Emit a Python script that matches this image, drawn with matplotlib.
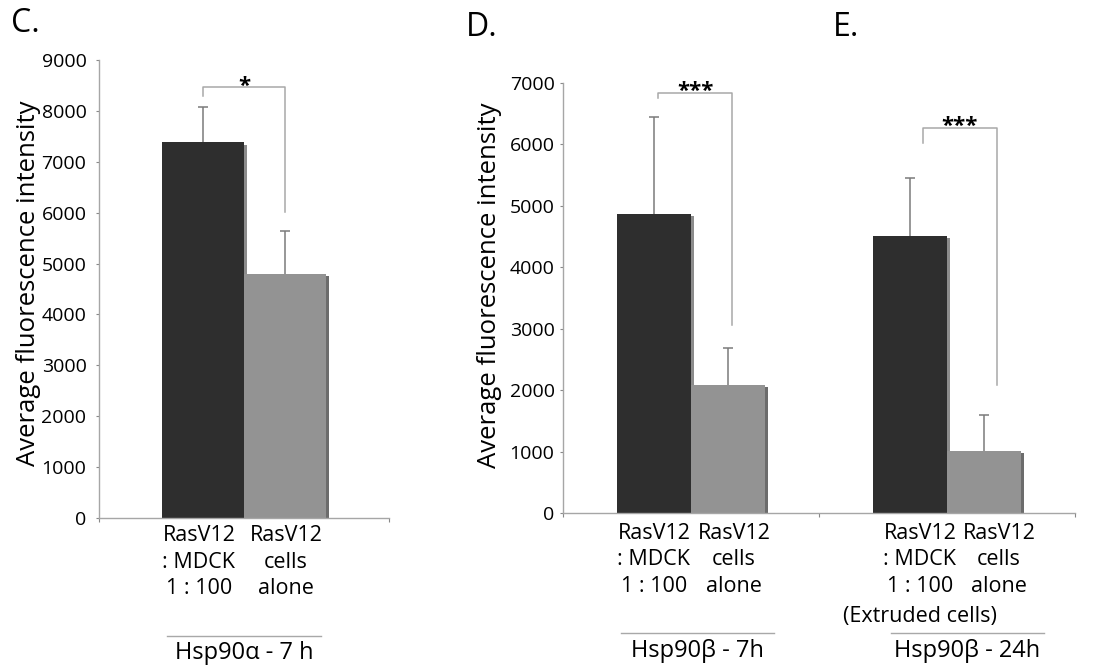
import numpy as np
import matplotlib.pyplot as plt
import matplotlib.patheffects as pe
from matplotlib.transforms import blended_transform_factory

plt.rcParams['font.family'] = ['Open Sans', 'DejaVu Sans']

# values
c_means = [7380, 4800]
c_err = [690, 840]
d_means = [4870, 2085]
d_err = [1580, 605]
e_means = [4510, 1010]
e_err = [945, 590]

# significance brackets: top, left end, right end
c_bracket = [8470, 8290, 6020]
d_bracket = [6840, 6760, 3060]
e_bracket = [6270, 6025, 2085]
stars = ["*", "***", "***"]

bar_labels = ["RasV12\n: MDCK\n1 : 100", "RasV12\ncells\nalone"]
group_labels = ["Hsp90α - 7 h", "Hsp90β - 7h", "Hsp90β - 24h"]
panel_letters = ["C.", "D.", "E."]
ylabel = "Average fluorescence intensity"

W, H = 1095, 668
dark, light = "#2e2e2e", "#939393"
shadow_cols = ["#8c8c8c", "#6c6c6c"]
line_col = "#a8a8a8"


def fx(x):
    return x / W


def fy(y):
    return 1 - y / H


def style_axis(ax, ymax, step, pad):
    ax.set_ylim(0, ymax)
    ax.set_yticks(range(0, ymax + 1, step))
    for s in ["top", "right"]:
        ax.spines[s].set_visible(False)
    for s in ["left", "bottom"]:
        ax.spines[s].set_color("#a6a6a6")
        ax.spines[s].set_linewidth(1.0)
    ax.tick_params(axis="y", length=2.5, width=0.8, color="#888888",
                   labelsize=14, pad=pad)
    ax.tick_params(axis="x", length=3, width=0.8, color="#888888",
                   labelbottom=False)


def draw_group(ax, center, means, errs, bracket, star, shift, bw,
               lab_off, lab_dx, group_label, under_half, under_off, text_off):
    xs = [center - bw / 2, center + bw / 2]
    bars = ax.bar(xs, means, width=bw, color=[dark, light],
                  edgecolor="none", zorder=2)
    for b, sc in zip(bars, shadow_cols):
        b.set_path_effects([pe.SimplePatchShadow(offset=(2.2, -1.5),
                                                 shadow_rgbFace=sc, alpha=1),
                            pe.Normal()])
    eb = ax.errorbar(xs, means, yerr=[[0, 0], errs], fmt="none",
                     ecolor="#7a7a7a", elinewidth=1.1, capsize=3.6,
                     capthick=1.1, zorder=3)
    # only the upper cap is drawn in the original
    for cl in eb[1]:
        if np.allclose(cl.get_ydata(), means):
            cl.set_visible(False)

    top, left_end, right_end = bracket
    xl, xr = xs[0] + shift, xs[1] + shift
    ax.plot([xl, xl, xr, xr], [left_end, top, top, right_end],
            color=line_col, lw=1.1, zorder=1, clip_on=False)
    ax.annotate(star, ((xl + xr) / 2, top), xytext=(0, -3.3),
                textcoords="offset points", ha="center", va="baseline",
                fontsize=16, fontweight="bold")

    tr = blended_transform_factory(ax.transData, ax.transAxes)
    for x, lab, dx in zip(xs, bar_labels, lab_dx):
        ax.annotate(lab, (x, 0), xycoords=tr, xytext=(dx * 0.72, lab_off),
                    textcoords="offset points", ha="center", va="top",
                    fontsize=15.5, linespacing=1.36)

    h = ax.bbox.height
    gx = center + shift * 1.6
    ax.plot([gx - under_half, gx + under_half], [-under_off / h] * 2,
            transform=tr, color=line_col, lw=1.0, clip_on=False)
    ax.text(gx, -text_off / h, group_label, transform=tr, ha="center",
            va="center", fontsize=17)
    return xs


fig = plt.figure(figsize=(W / 100, H / 100), dpi=100)

# panel C
axc = fig.add_axes([fx(99), fy(518), fx(389) - fx(99), fy(60) - fy(518)])
style_axis(axc, 9000, 1000, 6.5)
axc.set_xlim(0, 1)
axc.set_xticks([0, 1])
draw_group(axc, 0.5, c_means, c_err, c_bracket, stars[0], 0.0, 0.283,
           -5, (-4, 1), group_labels[0], 0.265, 118, 135)

# panels D and E share one axis
axd = fig.add_axes([fx(563), fy(513), fx(1075) - fx(563), fy(83) - fy(513)])
style_axis(axd, 7000, 1000, 3.6)
axd.set_xlim(0, 2)
axd.set_xticks([0, 1, 2])
draw_group(axd, 0.5, d_means, d_err, d_bracket, stars[1], 0.016, 0.29,
           -7, (0, 6), group_labels[1], 0.30, 120, 138)
xs_e = draw_group(axd, 1.5, e_means, e_err, e_bracket, stars[2], 0.05, 0.29,
                  -7, (10, 15), group_labels[2], 0.30, 120, 138)
tr = blended_transform_factory(axd.transData, axd.transAxes)
axd.annotate("(Extruded cells)", (xs_e[0] + 0.04, 0), xycoords=tr,
             xytext=(0, -67), textcoords="offset points", ha="center",
             va="top", fontsize=15.5)

fig.text(fx(29), fy(283), ylabel, rotation=90, ha="center", va="center",
         fontsize=18.5)
fig.text(fx(490), fy(285), ylabel, rotation=90, ha="center", va="center",
         fontsize=18.5)

for (px, py), letter in zip([(25, 24), (482, 28), (846, 28)], panel_letters):
    fig.text(fx(px), fy(py), letter, ha="center", va="center", fontsize=23)

fig.savefig("out.png", dpi=100)
